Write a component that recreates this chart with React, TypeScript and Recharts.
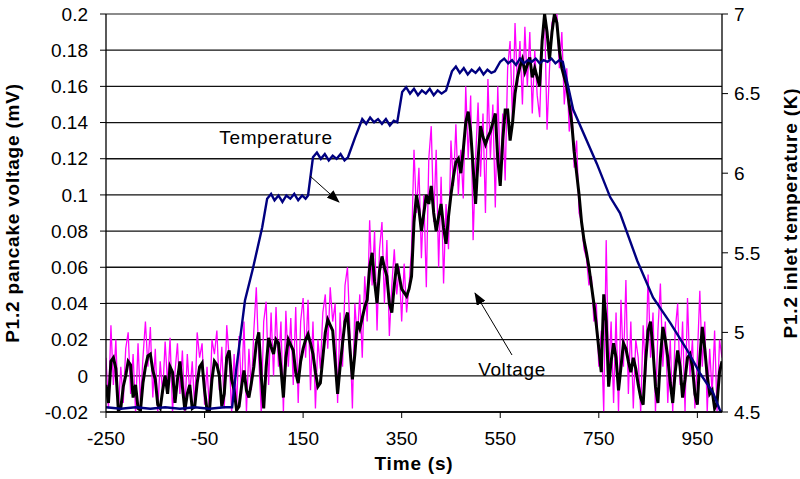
import React from 'react';
import {
  ComposedChart,
  Line,
  XAxis,
  YAxis,
  CartesianGrid,
  ReferenceLine,
  Label,
} from 'recharts';

// raw pancake voltage (magenta), sampled every 5 s from -250 s
const rawStart = -250;
const rawStep = 5;
const rawA = [
  0.010, -0.018, 0.028, -0.005, 0.020, -0.020, 0.005, -0.015, 0.015, 0.024,
  -0.010, 0.012, -0.020, 0.018, -0.015, 0.010, 0.030, 0.005, 0.027, -0.012,
  0.015, -0.020, 0.008, -0.010, 0.019, -0.005, 0.021, -0.020, 0.002, 0.018,
  -0.010, 0.014, -0.020, 0.012, -0.010, 0.008, -0.018, 0.024, 0.010, 0.018,
  -0.016, 0.005, -0.020, 0.020, 0.012, 0.025, -0.008, 0.016, -0.018, 0.028,
  0.010,
];
const rawB = [
  -0.020, 0.012, -0.018, 0.022, -0.010, 0.030, -0.020, 0.015, -0.008, 0.025,
  0.049, 0.010, -0.020, 0.030, 0.041, -0.005, 0.035, 0.000, 0.038, 0.005,
  0.030, -0.020, 0.036, 0.005, 0.032, -0.005, 0.038, -0.015, 0.030, 0.043,
];
const rawC = [
  0.010, 0.042, -0.008, 0.030, -0.018, 0.020, 0.004, 0.035, 0.045, 0.015,
  0.049, 0.030, 0.040, -0.015, 0.035, 0.005, 0.050, 0.060, 0.025, -0.018,
  0.040, 0.020, 0.045, 0.010, 0.055, 0.030, 0.086, 0.050, 0.080, 0.025,
  0.070, 0.085, 0.040, 0.075, 0.022, 0.050, 0.070, 0.045, 0.060, 0.030,
];
const rawD = [
  0.062, 0.035, 0.050, 0.070, 0.125, 0.090, 0.115, 0.065, 0.100, 0.049,
  0.120, 0.138, 0.085, 0.125, 0.060, 0.110, 0.051, 0.095, 0.070, 0.130,
  0.105, 0.139, 0.100, 0.125, 0.098, 0.160, 0.120, 0.155, 0.075, 0.120,
  0.151, 0.110, 0.145, 0.090, 0.164, 0.120, 0.150, 0.093, 0.160, 0.110,
];
const rawE = [
  0.145, 0.108, 0.170, 0.185, 0.140, 0.195, 0.160, 0.185, 0.150, 0.193,
  0.160, 0.190, 0.145, 0.180, 0.155, 0.143, 0.185, 0.200, 0.136, 0.170,
  0.195, 0.200, 0.200, 0.170, 0.190, 0.150, 0.170, 0.135, 0.150, 0.115,
  0.130, 0.090, 0.085, 0.070, 0.065, 0.050, 0.055, 0.030, 0.040, 0.005,
];
const rawF = [
  0.025, -0.020, 0.075, 0.000, 0.030, -0.015, 0.035, -0.020, 0.042, 0.005,
  0.053, -0.010, 0.030, -0.018, 0.020, 0.010, -0.020, 0.028, 0.000, 0.056,
  0.010, 0.035, -0.020, 0.025, 0.051, 0.005, 0.030, -0.015, 0.020, -0.020,
  0.025, 0.040, -0.005, 0.030, -0.020, 0.043, 0.000, 0.020, -0.018, 0.010,
  0.047, 0.005, 0.030, -0.020, 0.015, -0.010, 0.025, -0.020, 0.020, 0.010,
];

// averaged voltage (black), also every 5 s from -250 s
const avgStart = -250;
const avgStep = 5;
const avgA = [
  -0.005, -0.015, 0.008, 0.010, 0.004, -0.019, -0.018, -0.006, 0.000, 0.008,
  0.006, -0.012, -0.005, -0.018, -0.019, -0.004, 0.005, 0.011, 0.012, 0.003,
  -0.002, -0.016, -0.018, -0.008, 0.000, -0.010, 0.005, 0.002, -0.015, -0.002,
  0.008, -0.006, -0.019, -0.010, -0.005, -0.018, -0.017, -0.004, 0.005, 0.007,
  -0.008, -0.019, -0.019, -0.002, 0.008, 0.006, 0.000, -0.017, -0.010, 0.010,
  0.014,
];
const avgB = [
  -0.002, -0.008, -0.019, -0.017, -0.006, 0.003, -0.008, -0.012, -0.004, 0.005,
  0.018, 0.024, 0.000, -0.018, 0.005, 0.021, 0.016, 0.012, 0.020, 0.018,
  0.004, -0.012, 0.010, 0.020, 0.017, 0.014, 0.002, -0.004, 0.008, 0.015,
];
const avgC = [
  0.020, 0.023, 0.018, 0.012, 0.002, -0.006, -0.004, 0.010, 0.024, 0.031,
  0.028, 0.025, 0.008, -0.010, 0.005, 0.018, 0.030, 0.035, 0.015, -0.002,
  0.012, 0.030, 0.026, 0.032, 0.038, 0.042, 0.060, 0.068, 0.052, 0.040,
  0.058, 0.066, 0.060, 0.055, 0.040, 0.035, 0.050, 0.062, 0.055, 0.048,
];
const avgD = [
  0.046, 0.044, 0.048, 0.055, 0.085, 0.100, 0.092, 0.080, 0.090, 0.100,
  0.095, 0.105, 0.090, 0.080, 0.088, 0.095, 0.082, 0.073, 0.088, 0.100,
  0.110, 0.118, 0.120, 0.112, 0.125, 0.140, 0.146, 0.135, 0.115, 0.095,
  0.120, 0.138, 0.132, 0.128, 0.132, 0.135, 0.140, 0.145, 0.120, 0.105,
];
const avgE = [
  0.130, 0.147, 0.147, 0.130, 0.140, 0.156, 0.165, 0.171, 0.175, 0.168,
  0.172, 0.176, 0.165, 0.170, 0.165, 0.160, 0.185, 0.200, 0.190, 0.175,
  0.190, 0.200, 0.195, 0.180, 0.170, 0.165, 0.160, 0.150, 0.140, 0.124,
  0.112, 0.100, 0.085, 0.075, 0.068, 0.060, 0.050, 0.040, 0.028, 0.015,
];
const avgF = [
  0.002, 0.045, 0.030, -0.006, 0.008, 0.018, 0.010, -0.008, 0.005, 0.018,
  0.015, 0.008, 0.002, 0.010, 0.004, -0.005, -0.012, -0.016, 0.008, 0.025,
  0.030, 0.014, -0.006, -0.015, 0.010, 0.027, 0.020, 0.010, -0.004, -0.015,
  0.002, 0.014, 0.005, -0.012, -0.002, 0.010, 0.012, 0.005, -0.010, -0.016,
  0.010, 0.027, 0.015, 0.000, -0.010, -0.008, -0.018, -0.015, 0.002, 0.008,
];

// inlet temperature (K)
const tempTime = [
  -250, -220, -190, -160, -130, -100, -70, -40, -10, 6,
  14, 32, 48, 67,
  77, 85, 92, 100, 108, 116, 124, 132, 140, 148, 155, 160,
  170, 178, 186, 194, 202, 210, 218, 226, 234, 241,
  255,
  270, 278, 286, 294, 302, 310, 318, 326, 334, 341,
  351, 359, 367, 375, 383, 391, 399, 407, 415, 423, 431, 440,
  452, 460, 468, 476, 484, 492, 500, 508, 516, 524, 532, 539,
  550, 558, 566, 574, 582, 590, 598, 606, 614, 622, 630, 638, 646, 654, 662, 670, 677, 681,
  698, 746, 773, 793, 828, 860, 895, 929, 956, 982, 996, 1000,
];
const tempValue = [
  4.53, 4.52, 4.53, 4.52, 4.53, 4.52, 4.53, 4.52, 4.53, 4.53,
  4.76, 5.2, 5.4, 5.66,
  5.84, 5.87, 5.83, 5.86, 5.82, 5.86, 5.84, 5.87, 5.83, 5.86, 5.84, 5.86,
  6.1, 6.13, 6.09, 6.12, 6.08, 6.11, 6.09, 6.12, 6.08, 6.1,
  6.22,
  6.34, 6.31, 6.35, 6.32, 6.34, 6.31, 6.34, 6.3, 6.33, 6.32,
  6.51, 6.54, 6.5, 6.53, 6.49, 6.52, 6.5, 6.53, 6.49, 6.52, 6.5, 6.52,
  6.64, 6.67, 6.63, 6.66, 6.62, 6.65, 6.63, 6.66, 6.62, 6.65, 6.63, 6.64,
  6.7, 6.72, 6.69, 6.71, 6.68, 6.72, 6.69, 6.71, 6.7, 6.72, 6.69, 6.71, 6.7, 6.72, 6.69, 6.71, 6.7, 6.64,
  6.4, 6.06, 5.85, 5.75, 5.45, 5.22, 5.06, 4.89, 4.74, 4.62, 4.51, 4.5,
];

const timeTicks = [-250, -50, 150, 350, 550, 750, 950];
const voltTicks = [-0.02, 0, 0.02, 0.04, 0.06, 0.08, 0.1, 0.12, 0.14, 0.16, 0.18, 0.2];
const tempTicks = [4.5, 5, 5.5, 6, 6.5, 7];

const rawData = [...rawA, ...rawB, ...rawC, ...rawD, ...rawE, ...rawF].map((v, i) => ({
  t: rawStart + i * rawStep,
  v,
}));
const avgData = [...avgA, ...avgB, ...avgC, ...avgD, ...avgE, ...avgF].map((v, i) => ({
  t: avgStart + i * avgStep,
  v,
}));
const tempData = tempTime.map((t, i) => ({ t, k: tempValue[i] }));

const font = '"Liberation Sans", Arial, sans-serif';
const tickStyle = { fontSize: 19, fill: '#000', fontFamily: font };
const titleStyle = { fontSize: 19, fontWeight: 'bold', fill: '#000', fontFamily: font, letterSpacing: 0.8 };

const App: React.FC = () => {
  return (
    <div style={{ position: 'relative', width: 800, height: 479 }}>
      <style>{'body{margin:0}'}</style>
      <ComposedChart width={800} height={479} margin={{ top: 14, right: 0, bottom: 0, left: 0 }}>
        <CartesianGrid yAxisId="v" vertical={false} horizontal stroke="#111" strokeWidth={1.3} />
        <XAxis
          dataKey="t"
          type="number"
          domain={[-250, 1000]}
          ticks={timeTicks}
          allowDataOverflow
          height={67}
          axisLine={{ stroke: '#000', strokeWidth: 1.3 }}
          tickLine={{ stroke: '#000' }}
          tickSize={6}
          tickMargin={14}
          tick={tickStyle}
        >
          <Label value="Time (s)" position="insideBottom" offset={9} style={titleStyle} />
        </XAxis>
        <YAxis
          yAxisId="v"
          type="number"
          domain={[-0.02, 0.2]}
          ticks={voltTicks}
          allowDataOverflow
          width={106}
          axisLine={{ stroke: '#000', strokeWidth: 1.3 }}
          tickLine={{ stroke: '#000' }}
          tickSize={6}
          tickMargin={12}
          tick={tickStyle}
          tickFormatter={(v: number) => String(Number(v.toFixed(2)))}
        >
          <Label
            value="P1.2 pancake voltage (mV)"
            angle={-90}
            position="insideLeft"
            offset={12}
            style={{ ...titleStyle, textAnchor: 'middle' }}
          />
        </YAxis>
        <YAxis
          yAxisId="k"
          orientation="right"
          type="number"
          domain={[4.5, 7]}
          ticks={tempTicks}
          allowDataOverflow
          width={78}
          axisLine={{ stroke: '#000', strokeWidth: 1.3 }}
          tickLine={{ stroke: '#000' }}
          tickSize={6}
          tickMargin={6}
          tick={tickStyle}
        >
          <Label
            value="P1.2 inlet temperature (K)"
            angle={-90}
            position="insideRight"
            offset={10}
            style={{ ...titleStyle, textAnchor: 'middle' }}
          />
        </YAxis>
        <ReferenceLine yAxisId="v" y={0.2} stroke="#a0a0a0" strokeWidth={1.5} />
        <Line
          yAxisId="v"
          data={rawData}
          dataKey="v"
          type="linear"
          stroke="#ff00ff"
          strokeWidth={1.3}
          dot={false}
          isAnimationActive={false}
        />
        <Line
          yAxisId="v"
          data={avgData}
          dataKey="v"
          type="linear"
          stroke="#000"
          strokeWidth={3}
          dot={false}
          isAnimationActive={false}
        />
        <Line
          yAxisId="k"
          data={tempData}
          dataKey="k"
          type="linear"
          stroke="#000080"
          strokeWidth={2.4}
          dot={false}
          isAnimationActive={false}
        />
      </ComposedChart>
      <svg
        width={800}
        height={479}
        style={{ position: 'absolute', left: 0, top: 0, pointerEvents: 'none' }}
      >
        <defs>
          <marker id="arrowHead" markerWidth="13" markerHeight="10" refX="12" refY="5" orient="auto" markerUnits="userSpaceOnUse">
            <path d="M0,0 L13,5 L0,10 z" fill="#000" />
          </marker>
        </defs>
        <text x={276} y={144} textAnchor="middle" fontSize={19} fontFamily={font} letterSpacing={0.6}>
          Temperature
        </text>
        <line x1={310} y1={176} x2={339} y2={202} stroke="#000" strokeWidth={1} markerEnd="url(#arrowHead)" />
        <text x={512} y={376} textAnchor="middle" fontSize={19} fontFamily={font} letterSpacing={0.6}>
          Voltage
        </text>
        <line x1={512} y1={355} x2={475} y2={293} stroke="#000" strokeWidth={1} markerEnd="url(#arrowHead)" />
      </svg>
    </div>
  );
};

export default App;
